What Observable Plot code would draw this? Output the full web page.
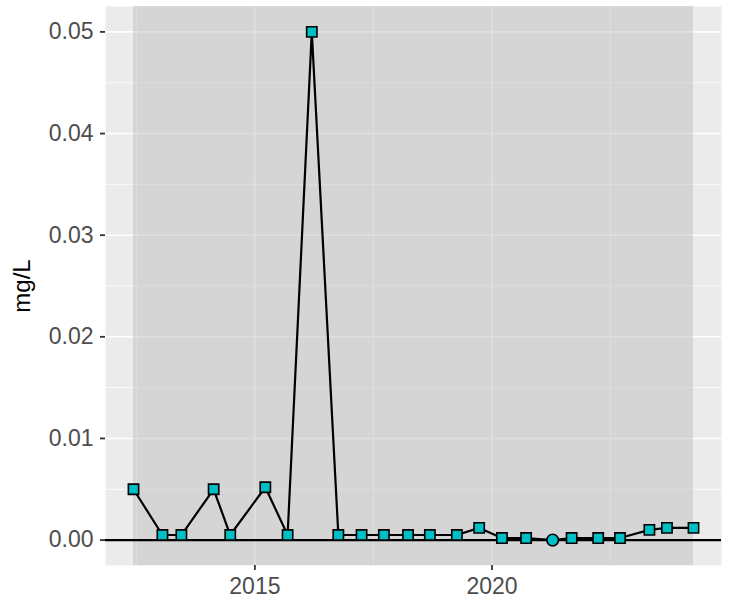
<!DOCTYPE html>
<html>
<head>
<meta charset="utf-8">
<script src="https://cdn.jsdelivr.net/npm/d3@7"></script>
<script src="https://cdn.jsdelivr.net/npm/@observablehq/plot@0.6"></script>
<style>
  html, body { margin: 0; padding: 0; background: white; }
</style>
</head>
<body>
<div id="chart"></div>
<script>
// Sample dates (decimal years), concentrations (mg/L) and detection status
const years = [2012.44, 2013.05, 2013.45, 2014.13, 2014.48, 2015.22, 2015.69, 2016.20,
               2016.76, 2017.25, 2017.72, 2018.23, 2018.69, 2019.26, 2019.73, 2020.21,
               2020.72, 2021.28, 2021.68, 2022.24, 2022.70, 2023.32, 2023.69, 2024.25];
const values = [0.005, 0.0005, 0.0005, 0.005, 0.0005, 0.0052, 0.0005, 0.05,
                0.0005, 0.0005, 0.0005, 0.0005, 0.0005, 0.0005, 0.0012, 0.0002,
                0.0002, 0.0, 0.0002, 0.0002, 0.0002, 0.001, 0.0012, 0.0012];
const status = ["D","D","D","D","D","D","D","D",
                "D","D","D","D","D","D","D","D",
                "D","ND","D","D","D","D","D","D"];
const statusCategories = ["D", "ND"];

const xTicks = [2015, 2020];
const xMinorTicks = [2012.5, 2017.5, 2022.5];
const yTicks = [0, 0.01, 0.02, 0.03, 0.04, 0.05];
const yMinorTicks = [0.005, 0.015, 0.025, 0.035, 0.045];
const yLabel = "mg/L";

const data = years.map((x, i) => ({x, y: values[i], s: status[i]}));
const span = [{x1: years[0], x2: years[years.length - 1]}];

const xPad = (years[years.length - 1] - years[0]) * 0.05;

const chart = Plot.plot({
  width: 753,
  height: 611,
  marginLeft: 105,
  marginRight: 32,
  marginTop: 6,
  marginBottom: 46,
  x: {domain: [years[0] - xPad, years[years.length - 1] + xPad]},
  y: {domain: [-0.0025, 0.0525]},
  symbol: {domain: statusCategories, range: ["square", "circle"]},
  style: {fontFamily: "'Liberation Sans', Arial, sans-serif", fontSize: "23px", background: "white", overflow: "visible"},
  marks: [
    Plot.frame({fill: "#EBEBEB", stroke: "none"}),
    Plot.gridY(yMinorTicks, {stroke: "white", strokeOpacity: 1, strokeWidth: 0.8}),
    Plot.gridX(xMinorTicks, {stroke: "white", strokeOpacity: 1, strokeWidth: 0.8}),
    Plot.gridY(yTicks, {stroke: "white", strokeOpacity: 1, strokeWidth: 1.6}),
    Plot.gridX(xTicks, {stroke: "white", strokeOpacity: 1, strokeWidth: 1.6}),
    Plot.rect(span, {x1: "x1", x2: "x2", fill: "#BFBFBF", fillOpacity: 0.5}),
    Plot.ruleY([0], {stroke: "black", strokeWidth: 2.2}),
    Plot.line(data, {x: "x", y: "y", stroke: "black", strokeWidth: 2.2}),
    Plot.dot(data, {x: "x", y: "y", symbol: "s", fill: "#00BFC4", stroke: "black", strokeWidth: 1.6, r: 5.8}),
    Plot.axisX(xTicks, {tickFormat: d => String(d), tickSize: 5, tickPadding: 7, stroke: "#333333", fill: "#4D4D4D", strokeWidth: 1.8, label: null, fontSize: 23}),
    Plot.axisY(yTicks, {tickFormat: d3.format(".2f"), tickSize: 5, tickPadding: 7, stroke: "#333333", fill: "#4D4D4D", strokeWidth: 1.8, label: null, fontSize: 23}),
    Plot.text([yLabel], {text: d => d, frameAnchor: "left", dx: -83, rotate: -90, textAnchor: "middle", lineAnchor: "middle", fill: "black", fontSize: 24})
  ]
});
document.getElementById("chart").appendChild(chart);
</script>
</body>
</html>
